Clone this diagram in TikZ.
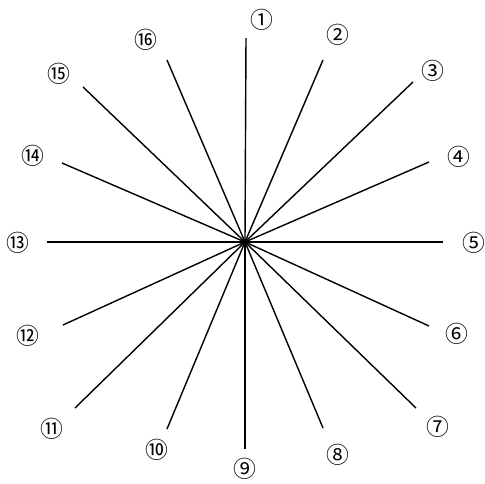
\documentclass[tikz,border=0pt]{standalone}
\usepackage{fontspec}
\newfontfamily\cjk{Noto Sans CJK SC}
\begin{document}
\begin{tikzpicture}[x=0.02cm, y=-0.02cm, every node/.style={font=\cjk\fontsize{13}{13}\selectfont, inner sep=0pt}]
  \useasboundingbox (0,0) rectangle (485,484);
  \coordinate (c) at (245,242);
  \foreach \i/\ex/\ey/\lx/\ly/\t in {1/246/38/262/20/①, 2/323/60/338/35/②, 3/413/82/433/71/③, 4/429/162/459/157/④,
      5/443/242/474/243/⑤, 6/429/326/457/334/⑥, 7/416/408/438/427/⑦, 8/323/428/338/455/⑧,
      9/245/449/245/469/⑨, 10/167/429/157/450/⑩, 11/75/408/52/429/⑪, 12/63/325/28/336/⑫,
      13/47/242/18/243/⑬, 14/62/163/33/156/⑭, 15/83/87/59/74/⑮, 16/167/60/146/40/⑯}{
    \coordinate (e\i) at (\ex,\ey);
    \node (l\i) at (\lx,\ly) {\t};
    \draw[line width=0.8pt] (c) -- (e\i);
  }
\end{tikzpicture}
\end{document}
